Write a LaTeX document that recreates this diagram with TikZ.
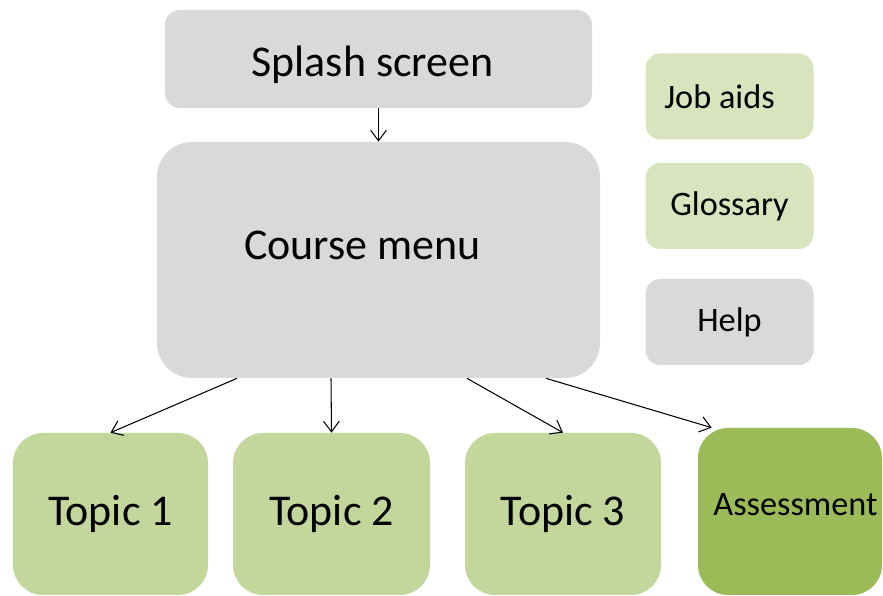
\documentclass[tikz,border=0pt]{standalone}
\usepackage{fontspec}
\setmainfont{Carlito}
\usepackage{xcolor}
\usepackage{tikz}
\usetikzlibrary{arrows.meta}
\definecolor{boxgray}{HTML}{D9D9D9}
\definecolor{palegreen}{HTML}{D7E4BD}
\definecolor{topicgreen}{HTML}{C3D69B}
\definecolor{darkgreen}{HTML}{9BBB59}

\begin{document}
\begin{tikzpicture}
\tikzstyle{every node}=[font=\fontsize{25}{29}\selectfont]
\tikzstyle{box}=[rounded corners=0.3cm, inner sep=0pt, text=black]
\tikzstyle{side}=[box, fill=palegreen, minimum width=3.36cm, minimum height=1.72cm, font=\fontsize{19.5}{23}\selectfont]
\tikzstyle{topic}=[box, fill=topicgreen, rounded corners=0.6cm, minimum width=3.92cm, minimum height=3.24cm]
\tikzstyle{link}=[line width=0.6pt, -{Straight Barb[length=6pt,width=9pt]}]
\useasboundingbox (0,0) rectangle (17.66,11.92);
\node [box, fill=boxgray, minimum width=8.54cm, minimum height=1.96cm, text height=0.71cm, text depth=0pt] (splash) at (7.57,10.74) {Splash screen\hspace*{0.24cm}};
\node [box, fill=boxgray, rounded corners=0.7cm, minimum width=8.86cm, minimum height=4.72cm, text height=0pt, text depth=0pt] (course) at (7.57,6.72) {Course menu\hspace*{0.64cm}};
\node [side] (jobaids) at (14.59,9.99) {Job aids\hspace*{0.4cm}};
\node [side] (glossary) at (14.59,7.80) {Glossary};
\node [side, fill=boxgray] (help) at (14.59,5.48) {Help};
\node [topic, minimum width=3.9cm] (topic1) at (2.21,1.64) {Topic 1};
\node [topic, minimum width=3.94cm] (topic2) at (6.63,1.64) {Topic 2};
\node [topic] (topic3) at (11.26,1.64) {Topic 3};
\node [topic, fill=darkgreen, minimum width=3.68cm, minimum height=3.34cm, text height=0.18cm, text depth=0pt, font=\fontsize{19.5}{23}\selectfont] (assess) at (15.8,1.69) {\hspace*{0.22cm}Assessment};
\draw [link] (splash) -- (course);
\draw [link] ([xshift=-2.83cm]course.south) -- (topic1.north);
\draw [link] ([xshift=-0.95cm]course.south) -- (topic2.north);
\draw [link] ([xshift=1.77cm]course.south) -- (topic3.north);
\draw [link] ([xshift=3.35cm]course.south) -- ([xshift=0.28cm]assess.north west);
\end{tikzpicture}
\end{document}
